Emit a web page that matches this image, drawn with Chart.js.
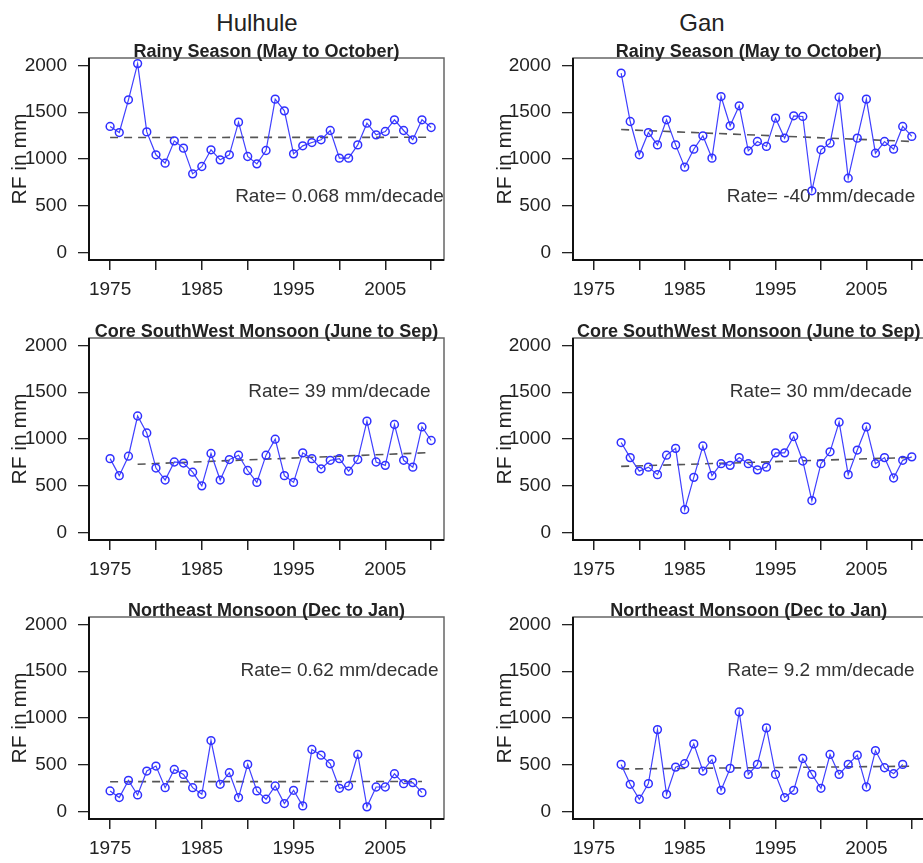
<!DOCTYPE html>
<html>
<head>
<meta charset="utf-8">
<script src="https://cdn.jsdelivr.net/npm/chart.js@4.4.1/dist/chart.umd.min.js"></script>
<style>
  html, body { margin: 0; padding: 0; background: #fff; overflow: hidden; }
  body { width: 923px; height: 863px; position: relative; font-family: "Liberation Sans", Arial, sans-serif; }
  .station { position: absolute; top: 11px; font-size: 24px; line-height: 1; color: #222; transform: translateX(-50%); }
  canvas { position: absolute; }
</style>
</head>
<body>
<div class="station" style="left:257px">Hulhule</div>
<div class="station" style="left:702px">Gan</div>
<canvas id="hulRainyCv" width="460" height="272" style="left:0;top:30px"></canvas>
<canvas id="ganRainyCv" width="470" height="272" style="left:460px;top:30px"></canvas>
<canvas id="hulCoreCv" width="460" height="272" style="left:0;top:310px"></canvas>
<canvas id="ganCoreCv" width="470" height="272" style="left:460px;top:310px"></canvas>
<canvas id="hulNECv" width="460" height="272" style="left:0;top:589px"></canvas>
<canvas id="ganNECv" width="470" height="272" style="left:460px;top:589px"></canvas>
<script>
// years (categories)
const hulYears = [1975,1976,1977,1978,1979,1980,1981,1982,1983,1984,1985,1986,1987,1988,1989,1990,1991,1992,1993,1994,1995,1996,1997,1998,1999,2000,2001,2002,2003,2004,2005,2006,2007,2008,2009,2010];
const hulNEYears = [1975,1976,1977,1978,1979,1980,1981,1982,1983,1984,1985,1986,1987,1988,1989,1990,1991,1992,1993,1994,1995,1996,1997,1998,1999,2000,2001,2002,2003,2004,2005,2006,2007,2008,2009];
const ganYears = [1978,1979,1980,1981,1982,1983,1984,1985,1986,1987,1988,1989,1990,1991,1992,1993,1994,1995,1996,1997,1998,1999,2000,2001,2002,2003,2004,2005,2006,2007,2008,2009,2010];
const ganNEYears = [1978,1979,1980,1981,1982,1983,1984,1985,1986,1987,1988,1989,1990,1991,1992,1993,1994,1995,1996,1997,1998,1999,2000,2001,2002,2003,2004,2005,2006,2007,2008,2009];

// rainfall (mm)
const hulRainy = [1348,1283,1633,2020,1290,1045,955,1194,1116,841,920,1098,991,1045,1394,1027,948,1091,1640,1515,1055,1141,1176,1205,1305,1009,1009,1151,1383,1258,1294,1419,1305,1205,1419,1337];
const ganRainy = [1918,1401,1045,1283,1151,1419,1151,913,1105,1248,1009,1668,1355,1569,1087,1187,1134,1437,1223,1462,1455,660,1098,1169,1661,795,1223,1640,1062,1187,1105,1348,1241];
const hulCore = [790,608,816,1246,1064,689,561,754,743,645,499,845,561,780,827,663,536,827,998,608,536,852,790,681,772,790,656,780,1191,754,718,1155,772,699,1129,984];
const ganCore = [962,801,656,699,619,827,900,244,590,925,608,736,718,801,736,670,699,852,852,1027,765,342,736,863,1180,619,882,1129,736,801,583,772,809];
const hulNE = [220,149,333,177,433,486,255,450,397,255,184,759,291,415,149,504,220,131,273,85,227,60,663,603,511,248,273,610,50,262,262,404,298,309,202];
const ganNE = [504,291,131,298,876,184,475,511,723,433,557,227,461,1064,397,504,894,397,149,227,567,397,248,610,397,504,603,262,652,468,404,504];

// trend line end points [[x0, x1], [y0, y1]]
const hulRainyTrend = [[1975, 2010], [1230, 1232]];
const ganRainyTrend = [[1978, 2010], [1315, 1187]];
const hulCoreTrend = [[1978, 2010], [730, 855]];
const ganCoreTrend = [[1978, 2010], [707, 803]];
const hulNETrend = [[1975, 2009], [319, 321]];
const ganNETrend = [[1978, 2010], [455, 484]];

// axes
const yTickValues = [0, 500, 1000, 1500, 2000];
const xTickValues = [1975, 1980, 1985, 1990, 1995, 2000, 2005, 2010];
const xLabelYears = [1975, 1985, 1995, 2005];

const FONT = '"Liberation Sans", Arial, sans-serif';
Chart.defaults.font.family = FONT;
Chart.defaults.animation = false;

const panelDecor = {
  id: 'panelDecor',
  beforeDatasetsDraw(chart, args, opts) {
    const { ctx, scales } = chart;
    ctx.save();
    ctx.fillStyle = '#333';
    ctx.font = '19px ' + FONT;
    ctx.textAlign = 'center';
    ctx.textBaseline = 'middle';
    ctx.fillText(opts.rate, scales.x.getPixelForValue(opts.rateAt[0]), scales.y.getPixelForValue(opts.rateAt[1]));
    ctx.restore();
  },
  afterDraw(chart, args, opts) {
    const { ctx, chartArea: a } = chart;
    ctx.save();
    ctx.strokeStyle = '#666';
    ctx.lineWidth = 1.5;
    ctx.strokeRect(a.left, a.top, a.right - a.left, a.bottom - a.top);
    ctx.strokeStyle = '#111';
    ctx.lineWidth = 2;
    ctx.beginPath();
    ctx.moveTo(a.left, a.top);
    ctx.lineTo(a.left, a.bottom);
    ctx.lineTo(a.right, a.bottom);
    ctx.stroke();
    ctx.fillStyle = '#222';
    ctx.font = 'bold 18px ' + FONT;
    ctx.textAlign = 'center';
    ctx.textBaseline = 'middle';
    ctx.fillText(opts.title, (a.left + a.right) / 2, a.top - 6);
    ctx.restore();
  }
};

function makePanel(canvasId, years, values, trend, title, rate, rateY, gan) {
  const yAxisWidth = gan ? 113 : 89;
  new Chart(document.getElementById(canvasId), {
    type: 'line',
    data: {
      datasets: [
        {
          data: years.map((yr, i) => ({ x: yr, y: values[i] })),
          borderColor: '#4040ff',
          borderWidth: 1.2,
          pointStyle: 'circle',
          pointRadius: 3.9,
          pointBorderWidth: 1.5,
          pointBorderColor: '#3030ff',
          pointBackgroundColor: 'rgba(255,255,255,0)',
          tension: 0
        },
        {
          data: trend[0].map((x, i) => ({ x, y: trend[1][i] })),
          borderColor: '#555',
          borderWidth: 1.6,
          borderDash: [8, 6],
          pointRadius: 0
        }
      ]
    },
    options: {
      responsive: false,
      layout: { padding: { top: 28, right: gan ? 2 : 16, bottom: 0, left: 0 } },
      plugins: {
        legend: { display: false },
        tooltip: { enabled: false },
        panelDecor: { title, rate, rateAt: [2000, rateY] }
      },
      scales: {
        x: {
          type: 'linear', min: 1972.7, max: 2011.4,
          afterBuildTicks: s => { s.ticks = xTickValues.map(v => ({ value: v })); },
          afterFit: s => { s.height = 42; },
          ticks: {
            color: '#222', font: { size: 19 }, padding: 8, maxRotation: 0, autoSkip: false,
            callback: v => (xLabelYears.includes(v) ? String(v) : '')
          },
          grid: { drawOnChartArea: false, drawTicks: true, tickLength: 10, color: '#222', lineWidth: 1.5 },
          border: { display: false }
        },
        y: {
          type: 'linear', min: -80, max: 2080,
          afterBuildTicks: s => { s.ticks = yTickValues.map(v => ({ value: v })); },
          afterFit: s => { s.width = yAxisWidth; },
          ticks: { color: '#222', font: { size: 19 }, padding: 11, callback: v => String(v) },
          grid: { drawOnChartArea: false, drawTicks: true, tickLength: 11, color: '#222', lineWidth: 1.3 },
          border: { display: false },
          title: {
            display: true, text: 'RF in mm', color: '#222', font: { size: 21 },
            padding: { top: gan ? 33 : 8, bottom: 0 }
          }
        }
      }
    },
    plugins: [panelDecor]
  });
}

makePanel('hulRainyCv', hulYears, hulRainy, hulRainyTrend, 'Rainy Season (May to October)', 'Rate= 0.068 mm/decade', 600, false);
makePanel('ganRainyCv', ganYears, ganRainy, ganRainyTrend, 'Rainy Season (May to October)', 'Rate= -40 mm/decade', 600, true);
makePanel('hulCoreCv', hulYears, hulCore, hulCoreTrend, 'Core SouthWest Monsoon (June to Sep)', 'Rate= 39 mm/decade', 1500, false);
makePanel('ganCoreCv', ganYears, ganCore, ganCoreTrend, 'Core SouthWest Monsoon (June to Sep)', 'Rate= 30 mm/decade', 1500, true);
makePanel('hulNECv', hulNEYears, hulNE, hulNETrend, 'Northeast Monsoon (Dec to Jan)', 'Rate= 0.62 mm/decade', 1500, false);
makePanel('ganNECv', ganNEYears, ganNE, ganNETrend, 'Northeast Monsoon (Dec to Jan)', 'Rate= 9.2 mm/decade', 1500, true);
</script>
</body>
</html>
